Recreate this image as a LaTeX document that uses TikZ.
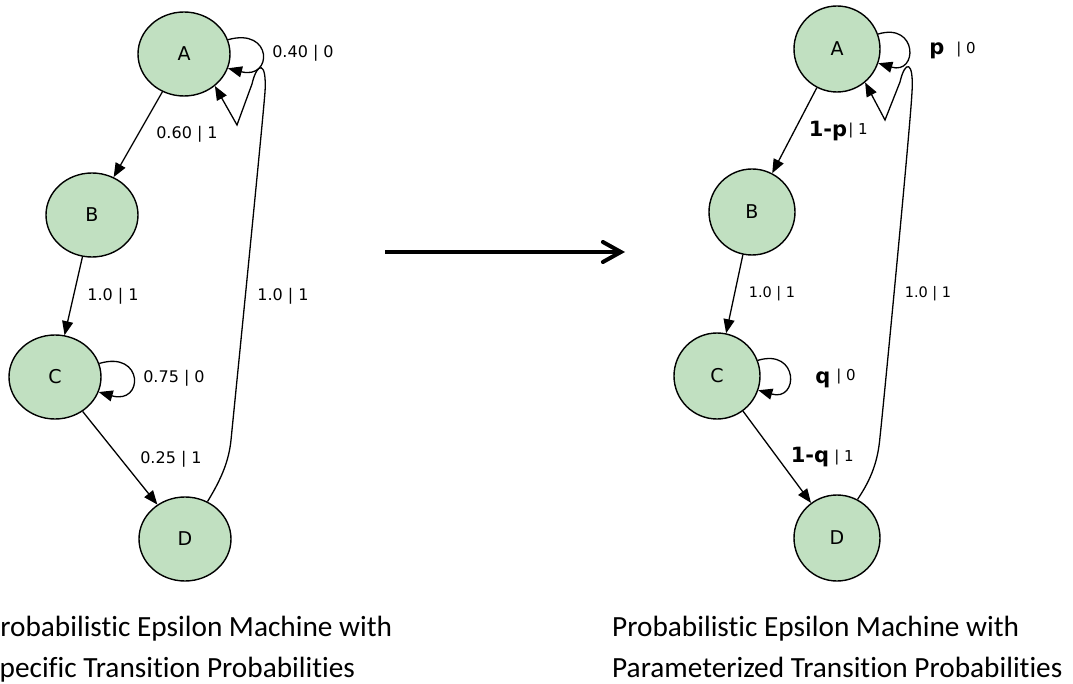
\documentclass[tikz,border=0pt]{standalone}
\usepackage{fontspec}
\setmainfont{Carlito}[Ligatures={NoCommon,NoContextual,NoRequired}]
\newfontfamily\dv{DejaVu Sans}
\newfontfamily\dvb{DejaVu Sans Bold}
\usetikzlibrary{arrows.meta,shapes.geometric}
\definecolor{stategreen}{RGB}{193,224,193}
\begin{document}
\begin{tikzpicture}[x=1pt,y=-1pt,
  stateL/.style={ellipse,draw=black,line width=1.4pt,fill=stategreen,minimum width=92pt,minimum height=84pt,inner sep=0pt,font=\dv\fontsize{19}{22}\selectfont},
  stateR/.style={circle,draw=black,line width=1.4pt,fill=stategreen,minimum size=86pt,inner sep=0pt,font=\dv\fontsize{19}{22}\selectfont},
  edge/.style={line width=1.3pt,-{Triangle[length=14pt,width=11pt]}},
  lblL/.style={anchor=base,inner sep=0pt,font=\dv\fontsize{16}{19}\selectfont},
  lblR/.style={anchor=base,inner sep=0pt,font=\dv\fontsize{14.5}{17}\selectfont},
  lblS/.style={anchor=base,inner sep=0pt,font=\dv\fontsize{15}{18}\selectfont},
  lblB/.style={anchor=base,inner sep=0pt,font=\dvb\fontsize{21}{24}\selectfont},
  caption/.style={anchor=base west,inner sep=0pt,font=\fontsize{29.3}{34}\selectfont},
  bigarrow/.style={line width=4pt,-{Straight Barb[length=18pt,width=20pt,line cap=round]}}
]
\useasboundingbox (0,0) rectangle (1073,684);

% ---------- left machine ----------
\node[stateL] (A) at (184,54) {A};
\node[stateL] (B) at (92,215) {B};
\node[stateL] (C) at (55,377) {C};
\node[stateL] (D) at (185,539) {D};

\draw[edge] (A.18) .. controls (273,27) and (273,80) .. (A.-18);
\draw[edge] (A) -- (B);
\draw[edge] (B) -- (C);
\draw[edge] (C.17) .. controls (144,350) and (144,405) .. (C.-19);
\draw[edge] (C) -- (D);
\draw[edge] (D.59) .. controls (222,478) and (229,460) .. (231,440)
  .. controls (235,400) and (262,130) .. (265,92)
  .. controls (267,60) and (257,62) .. (252,84) -- (237,125) -- (A.-46);

\node[lblL] (lAA) at (303,58) {0.40 | 0};
\node[lblL] (lAB) at (187,139) {0.60 | 1};
\node[lblL] (lBC) at (113,301) {1.0 | 1};
\node[lblL] (lDA) at (283,301) {1.0 | 1};
\node[lblL] (lCC) at (174,382) {0.75 | 0};
\node[lblL] (lCD) at (171,463) {0.25 | 1};

% ---------- right machine ----------
\node[stateR] (A2) at (837,49) {A};
\node[stateR] (B2) at (752,212) {B};
\node[stateR] (C2) at (717,376) {C};
\node[stateR] (D2) at (837,538) {D};

\draw[edge] (A2.20) .. controls (918,22) and (918,75) .. (A2.-19);
\draw[edge] (A2) -- (B2);
\draw[edge] (B2) -- (C2);
\draw[edge] (C2.21) .. controls (799,348) and (799,402) .. (C2.-19);
\draw[edge] (C2) -- (D2);
\draw[edge] (D2.62) .. controls (872,478) and (878,460) .. (880,437)
  .. controls (884,400) and (910,130) .. (912,92)
  .. controls (914,60) and (905,60) .. (900,82) -- (885,120) -- (A2.-50);

\node[lblB] (pA) at (937,55) {p};
\node[lblS] (pA0) at (966,54) {| 0};
\node[lblB] (pB) at (828,137) {1-p};
\node[lblS] (pB1) at (858,135) {| 1};
\node[lblR] (rBC) at (772,298) {1.0 | 1};
\node[lblR] (rDA) at (928,298) {1.0 | 1};
\node[lblB] (qC) at (823,383) {q};
\node[lblS] (qC0) at (846,381) {| 0};
\node[lblB] (qD) at (810,462) {1-q};
\node[lblS] (qD1) at (844,461) {| 1};

% ---------- middle arrow ----------
\coordinate (arS) at (385,252);
\coordinate (arE) at (625,252);
\draw[bigarrow] (arS) -- (arE);

% ---------- captions ----------
\node[caption] (capL1) at (-15,636) {Probabilistic Epsilon Machine with};
\node[caption] (capL2) at (-14,677) {Specific Transition Probabilities};
\node[caption] (capR1) at (612,636) {Probabilistic Epsilon Machine with};
\node[caption] (capR2) at (612,677) {Parameterized Transition Probabilities};
\end{tikzpicture}
\end{document}
